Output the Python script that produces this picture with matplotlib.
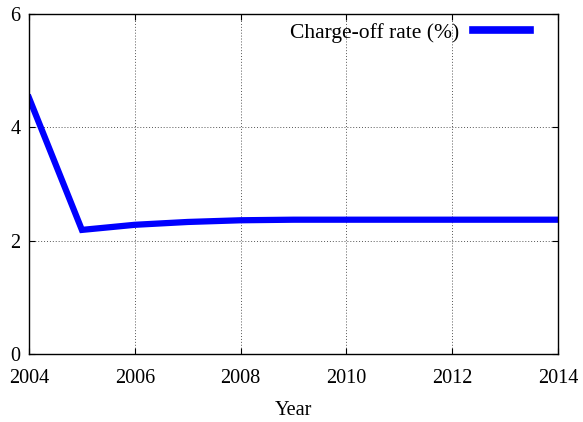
import matplotlib
matplotlib.use("Agg")
import matplotlib.pyplot as plt

# Data
years = [2004, 2005, 2006, 2007, 2008, 2009, 2010, 2011, 2012, 2013, 2014]
charge_off = [4.52, 2.19, 2.28, 2.33, 2.36, 2.37, 2.37, 2.37, 2.37, 2.37, 2.37]

x_ticks = [2004, 2006, 2008, 2010, 2012, 2014]
y_ticks = [0, 2, 4, 6]

plt.rcParams["font.family"] = ["Liberation Serif", "DejaVu Serif"]
plt.rcParams["font.size"] = 14.6

fig = plt.figure(figsize=(5.83, 4.22), dpi=100)
ax = fig.add_axes([29 / 583, 1 - 354 / 422, (558 - 29) / 583, (354 - 14) / 422])

ax.plot(years, charge_off, color="#0000ff", linewidth=4.5, label="Charge-off rate (%)",
        solid_joinstyle="miter")

ax.set_xlim(2004, 2014)
ax.set_ylim(0, 6)
ax.set_xticks(x_ticks)
ax.set_yticks(y_ticks)
ax.tick_params(direction="in", top=True, right=True, length=4, width=0.8)
ax.tick_params(axis="x", pad=11)
ax.tick_params(axis="y", pad=6)
ax.grid(True, color="#555555", linestyle=(0, (1, 2)), linewidth=0.7)
for s in ax.spines.values():
    s.set_linewidth(1.0)

ax.set_xlabel("Year", labelpad=9)

leg = ax.legend(loc="upper right", frameon=False, markerfirst=False, handlelength=2.65,
                borderaxespad=0.0, handletextpad=0.65, fontsize=15.5,
                bbox_to_anchor=(0.963, 1.0))
for h in leg.get_lines():
    h.set_linewidth(5.5)

fig.savefig("out.png", dpi=100)
